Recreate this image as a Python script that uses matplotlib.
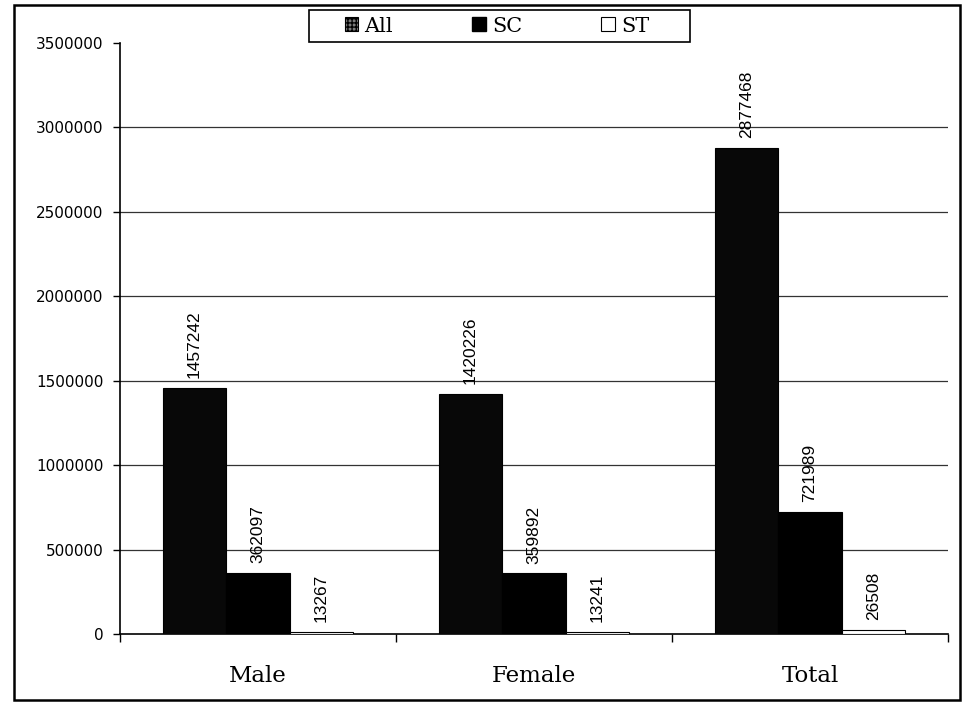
import matplotlib
matplotlib.use("Agg")
import matplotlib.pyplot as plt
from matplotlib.patches import Patch, Rectangle
import numpy as np

categories = ["Male", "Female", "Total"]
series_names = ["All", "SC", "ST"]
all_vals = [1457242, 1420226, 2877468]
sc_vals = [362097, 359892, 721989]
st_vals = [13267, 13241, 26508]
y_ticks = [0, 500000, 1000000, 1500000, 2000000, 2500000, 3000000, 3500000]

fig = plt.figure(figsize=(9.63, 7.11), dpi=100)
ax = fig.add_axes([120 / 963, 1 - 634 / 711, (948 - 120) / 963, (634 - 43) / 711])

x = np.arange(len(categories))
w = 0.23
series = [all_vals, sc_vals, st_vals]
faces = ["#080808", "#000000", "#ffffff"]
for j, (vals, fc) in enumerate(zip(series, faces)):
    pos = x + (j - 1) * w
    bars = ax.bar(pos, vals, width=w, color=fc, edgecolor="black", linewidth=0.8, zorder=3)
    for b, v in zip(bars, vals):
        ax.annotate(str(v), (b.get_x() + b.get_width() / 2, v), xytext=(0, 7),
                    textcoords="offset points", rotation=90, ha="center", va="bottom",
                    fontsize=12.5, family="Liberation Sans", color="black")

ax.set_xlim(-0.5, 2.5)
ax.set_ylim(0, 3500000)
ax.set_yticks(y_ticks)
ax.set_yticklabels([str(t) for t in y_ticks], fontsize=11, family="DejaVu Sans")
ax.tick_params(axis="y", direction="out", length=5, width=1, pad=7)
ax.set_xticks(x)
ax.set_xticklabels(categories, fontsize=16.5, family="DejaVu Serif")
ax.tick_params(axis="x", which="major", length=0, pad=22)
ax.set_xticks([-0.5, 0.5, 1.5, 2.5], minor=True)
ax.tick_params(axis="x", which="minor", direction="out", length=6, width=1)

for t in y_ticks[1:-1]:
    ax.axhline(t, color="#333333", linewidth=0.9, zorder=1)

ax.spines["top"].set_visible(False)
ax.spines["right"].set_visible(False)
ax.spines["left"].set_linewidth(1.2)
ax.spines["bottom"].set_linewidth(1.2)

handles = [Patch(facecolor="#7a7a7a", edgecolor="black", hatch="++++", linewidth=0.8),
           Patch(facecolor="black", edgecolor="black"),
           Patch(facecolor="white", edgecolor="black", linewidth=0.8)]
leg = fig.legend(handles, series_names, loc="center", bbox_to_anchor=(497 / 963, 1 - 26 / 711),
                 bbox_transform=fig.transFigure, ncol=3, frameon=False,
                 handlelength=0.65, handleheight=0.65, handletextpad=0.3,
                 columnspacing=3.8, prop={"family": "DejaVu Serif", "size": 15},
                 borderpad=0.35)

# legend box
fig.patches.append(Rectangle((309 / 963, 1 - 42 / 711), (690 - 309) / 963, (42 - 10) / 711,
                             transform=fig.transFigure, facecolor="white", edgecolor="black",
                             linewidth=1.2, zorder=2))
leg.set_zorder(5)

fig.patches.append(Rectangle((14 / 963, 1 - 700 / 711), (960 - 14) / 963, (700 - 5) / 711,
                             transform=fig.transFigure, fill=False, edgecolor="black",
                             linewidth=1.8))

fig.savefig("out.png", dpi=100)
